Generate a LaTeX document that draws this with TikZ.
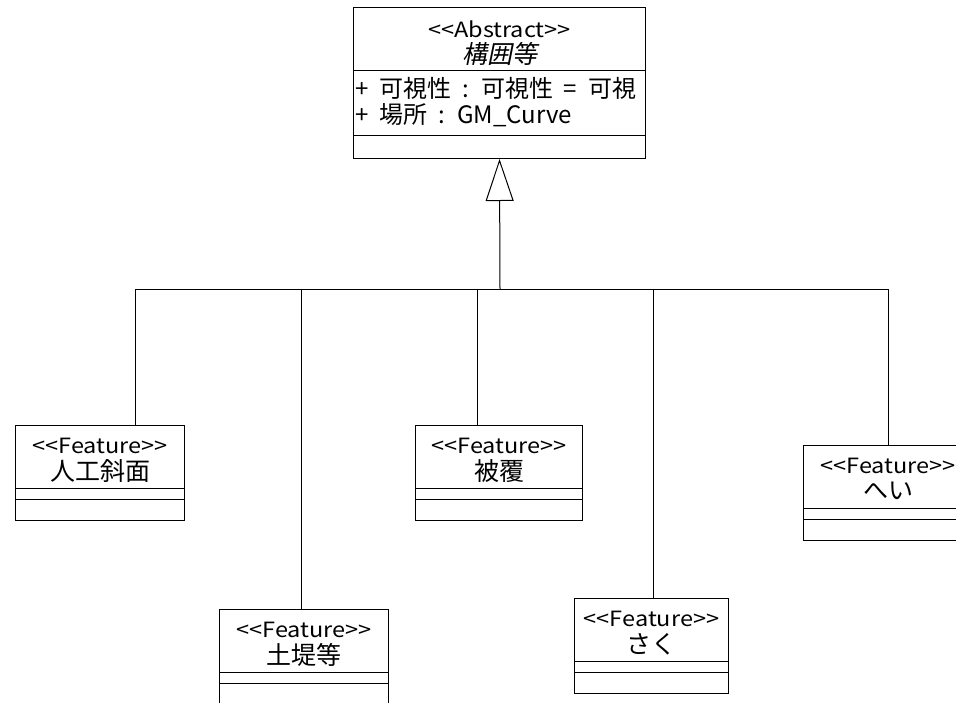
\documentclass[tikz,border=0pt]{standalone}
\usepackage{fontspec}
\setmainfont{Noto Sans CJK JP}
\newfontfamily\slantcjk[FakeSlant=0.2]{Noto Sans CJK JP}
\newfontfamily\stereofont[FakeStretch=1.12]{Noto Sans CJK JP}
\newfontfamily\attrfont[WordSpace=2]{Noto Sans CJK JP}
\usetikzlibrary{arrows.meta,calc}
\newcommand\ltsym{\char"3C\relax}
\newcommand\gtsym{\char"3E\relax}
\newcommand\stereo[1]{\ltsym\ltsym #1\gtsym\gtsym}
\begin{document}
\begin{tikzpicture}[x=1pt,y=-1pt,
  umlline/.style={line width=1pt, black},
  classframe/.style={draw, umlline, anchor=north west, inner sep=0pt, minimum height=95pt},
  stereotxt/.style={inner sep=0pt, font=\fontsize{21}{23}\stereofont},
  nametxt/.style={inner sep=0pt, font=\fontsize{25}{28}\selectfont},
  attrtxt/.style={inner sep=0pt, anchor=west, font=\fontsize{24}{26}\attrfont},
  generalization/.style={umlline, -{Triangle[open, length=42pt, width=28pt, line width=1pt]}}]
\useasboundingbox (0,0) rectangle (956,702);
\clip (0,0) rectangle (956,702);

% feature class: name, left, top, width, class name
\newcommand\featbox[5]{%
  \node[classframe, minimum width=#4pt] (#1) at (#2,#3) {};
  \draw[umlline] ($(#1.north west)+(0,63)$) -- ($(#1.north east)+(0,63)$);
  \draw[umlline] ($(#1.north west)+(0,74)$) -- ($(#1.north east)+(0,74)$);
  \node[stereotxt] (#1-st) at ($(#1.north)+(0,21)$) {\stereo{Feature}};
  \node[nametxt] (#1-nm) at ($(#1.north)+(0,46)$) {#5};
}

% abstract base class
\node[draw, umlline, anchor=north west, inner sep=0pt, minimum width=292pt, minimum height=151pt] (base) at (353,7) {};
\draw[umlline] ($(base.north west)+(0,63)$) -- ($(base.north east)+(0,63)$);
\draw[umlline] ($(base.north west)+(0,128)$) -- ($(base.north east)+(0,128)$);
\node[stereotxt] (base-st) at ($(base.north)+(0,22)$) {\stereo{Abstract}};
\node[nametxt, font=\fontsize{25}{28}\slantcjk] (base-nm) at ($(base.north)+(0,47)$) {構囲等};
\node[attrtxt] (attr1) at ($(base.north west)+(2,81)$) {+ 可視性 : 可視性 = 可視};
\node[attrtxt] (attr2) at ($(base.north west)+(2,108)$) {+ 場所 : GM\_Curve};

% concrete feature classes
\featbox{slope}{15}{425}{169}{人工斜面}
\featbox{bank}{219}{609}{169}{土堤等}
\featbox{cover}{415}{425}{167}{被覆}
\featbox{fence}{574}{598}{154}{さく}
\featbox{wall}{803}{445}{169}{へい}

% generalization tree
\coordinate (bus) at (500,289);
\draw[umlline] ([xshift=35.5pt]slope.north) |- (bus);
\draw[umlline] ([xshift=-2.5pt]bank.north) |- (bus);
\draw[umlline] ([xshift=-21.5pt]cover.north) |- (bus);
\draw[umlline] ([xshift=2pt]fence.north) |- (bus);
\draw[umlline] (wall.north) |- (bus);
\draw[generalization] (bus) -- (base.south);
\end{tikzpicture}
\end{document}
